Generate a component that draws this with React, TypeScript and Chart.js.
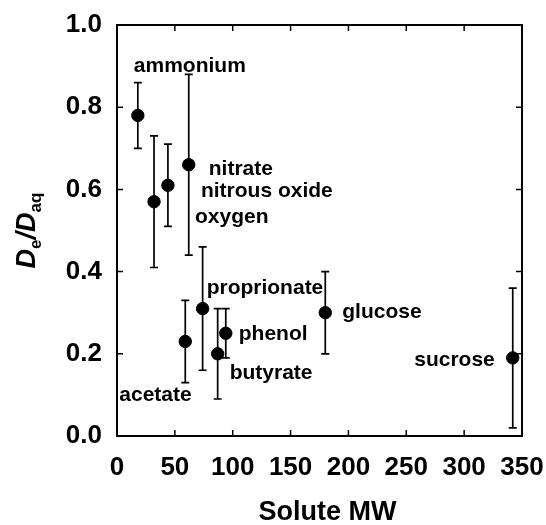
import React, { useEffect, useRef } from "react";
import { Chart, registerables } from "chart.js";

Chart.register(...registerables);

// ---- data ----
const solutes = [
  "ammonium",
  "oxygen",
  "nitrous oxide",
  "nitrate",
  "acetate",
  "proprionate",
  "butyrate",
  "phenol",
  "glucose",
  "sucrose",
];
const molecularWeight = [18, 32, 44, 62, 59, 74, 87, 94, 180, 342];
const diffusivityRatio = [0.78, 0.57, 0.61, 0.66, 0.23, 0.31, 0.2, 0.25, 0.3, 0.19];
const errorHalfWidth = [0.08, 0.16, 0.1, 0.22, 0.1, 0.15, 0.11, 0.06, 0.1, 0.17];

const xAxisMin = 0;
const xAxisMax = 350;
const xAxisStep = 50;
const yAxisMin = 0;
const yAxisMax = 1.0;
const yAxisStep = 0.2;

const xAxisTitle = "Solute MW";

// ---- styling / placement (pixel offsets of each label from its point) ----
const labelPlacement: Record<string, { dx: number; dy: number; align: CanvasTextAlign }> = {
  ammonium: { dx: -4, dy: -43, align: "left" },
  oxygen: { dx: 41, dy: 21, align: "left" },
  "nitrous oxide": { dx: 33, dy: 12, align: "left" },
  nitrate: { dx: 20, dy: 10, align: "left" },
  acetate: { dx: -66, dy: 60, align: "left" },
  proprionate: { dx: 4, dy: -15, align: "left" },
  butyrate: { dx: 12, dy: 25, align: "left" },
  phenol: { dx: 13, dy: 7, align: "left" },
  glucose: { dx: 17, dy: 5, align: "left" },
  sucrose: { dx: -18, dy: 8, align: "right" },
};

const FONT = "'Liberation Sans', Arial, Helvetica, sans-serif";

const errorBarsPlugin = {
  id: "errorBars",
  beforeDatasetsDraw(chart: any) {
    const { ctx } = chart;
    const x = chart.scales.x;
    const y = chart.scales.y;
    ctx.save();
    ctx.strokeStyle = "#000";
    ctx.lineWidth = 1.7;
    molecularWeight.forEach((mw, i) => {
      const px = x.getPixelForValue(mw);
      const top = y.getPixelForValue(diffusivityRatio[i] + errorHalfWidth[i]);
      const bot = y.getPixelForValue(diffusivityRatio[i] - errorHalfWidth[i]);
      ctx.beginPath();
      ctx.moveTo(px, top);
      ctx.lineTo(px, bot);
      ctx.moveTo(px - 4, top);
      ctx.lineTo(px + 4, top);
      ctx.moveTo(px - 4, bot);
      ctx.lineTo(px + 4, bot);
      ctx.stroke();
    });
    ctx.restore();
  },
};

const decorPlugin = {
  id: "decor",
  afterDraw(chart: any) {
    const { ctx, chartArea } = chart;
    const x = chart.scales.x;
    const y = chart.scales.y;
    const { left, right, top, bottom } = chartArea;
    ctx.save();
    // frame
    ctx.strokeStyle = "#000";
    ctx.lineWidth = 2;
    ctx.strokeRect(left, top, right - left, bottom - top);
    // inward ticks on all sides
    const tl = 6;
    ctx.lineWidth = 1.5;
    ctx.beginPath();
    x.ticks.forEach((t: any) => {
      const px = x.getPixelForValue(t.value);
      ctx.moveTo(px, bottom);
      ctx.lineTo(px, bottom - tl);
      ctx.moveTo(px, top);
      ctx.lineTo(px, top + tl);
    });
    y.ticks.forEach((t: any) => {
      const py = y.getPixelForValue(t.value);
      ctx.moveTo(left, py);
      ctx.lineTo(left + tl, py);
      ctx.moveTo(right, py);
      ctx.lineTo(right - tl, py);
    });
    ctx.stroke();

    // point labels
    ctx.fillStyle = "#000";
    ctx.font = `bold 21px ${FONT}`;
    ctx.textBaseline = "alphabetic";
    solutes.forEach((name, i) => {
      const p = labelPlacement[name];
      const px = x.getPixelForValue(molecularWeight[i]);
      const py = y.getPixelForValue(diffusivityRatio[i]);
      ctx.textAlign = p.align;
      ctx.fillText(name, px + p.dx, py + p.dy);
    });

    // x-axis title
    ctx.font = `bold 27px ${FONT}`;
    ctx.textAlign = "center";
    ctx.fillText(xAxisTitle, (left + right) / 2 + 8, 520);

    // y-axis title: De/Daq with subscripts, rotated
    const segs = [
      { t: "D", font: `italic bold 27px ${FONT}`, dy: 0 },
      { t: "e", font: `bold 17px ${FONT}`, dy: 6 },
      { t: "/", font: `italic bold 27px ${FONT}`, dy: 0 },
      { t: "D", font: `italic bold 27px ${FONT}`, dy: 0 },
      { t: "aq", font: `bold 17px ${FONT}`, dy: 6 },
    ];
    let total = 0;
    const widths = segs.map((s) => {
      ctx.font = s.font;
      const w = ctx.measureText(s.t).width;
      total += w;
      return w;
    });
    ctx.translate(35, (top + bottom) / 2);
    ctx.rotate(-Math.PI / 2);
    ctx.textAlign = "left";
    let cx = -total / 2;
    segs.forEach((s, i) => {
      ctx.font = s.font;
      ctx.fillText(s.t, cx, s.dy);
      cx += widths[i];
    });
    ctx.restore();
  },
};

export default function App() {
  const ref = useRef<HTMLCanvasElement | null>(null);

  useEffect(() => {
    if (!ref.current) return;
    const chart = new Chart(ref.current, {
      type: "scatter",
      data: {
        datasets: [
          {
            label: "De/Daq",
            data: molecularWeight.map((mw, i) => ({ x: mw, y: diffusivityRatio[i] })),
            backgroundColor: "#000",
            borderColor: "#000",
            pointRadius: 6.2,
            pointHoverRadius: 6.2,
            clip: false as any,
          },
        ],
      },
      options: {
        animation: false,
        responsive: false,
        devicePixelRatio: 1,
        events: [],
        layout: { padding: { top: 25, right: 24, left: 0, bottom: 0 } },
        plugins: {
          legend: { display: false },
          tooltip: { enabled: false },
          title: { display: false },
        },
        scales: {
          x: {
            type: "linear",
            min: xAxisMin,
            max: xAxisMax,
            grid: { display: false, drawTicks: false },
            border: { display: false },
            ticks: {
              stepSize: xAxisStep,
              color: "#000",
              font: { family: FONT, size: 26, weight: "bold" },
              padding: 16,
              maxRotation: 0,
              callback: (v: any) => String(v),
            },
            afterFit: (s: any) => {
              s.height = 89;
              s.paddingLeft = 0;
              s.paddingRight = 0;
            },
          },
          y: {
            type: "linear",
            min: yAxisMin,
            max: yAxisMax,
            grid: { display: false, drawTicks: false },
            border: { display: false },
            ticks: {
              stepSize: yAxisStep,
              color: "#000",
              font: { family: FONT, size: 26, weight: "bold" },
              padding: 15,
              callback: (v: any) => Number(v).toFixed(1),
            },
            afterFit: (s: any) => {
              s.width = 117;
              s.paddingTop = 0;
              s.paddingBottom = 0;
            },
          },
        },
      },
      plugins: [errorBarsPlugin, decorPlugin],
    });
    return () => chart.destroy();
  }, []);

  return (
    <div style={{ position: "absolute", left: 0, top: 0, width: 546, height: 525, background: "#fff" }}>
      <canvas ref={ref} width={546} height={525} style={{ display: "block" }} />
    </div>
  );
}
